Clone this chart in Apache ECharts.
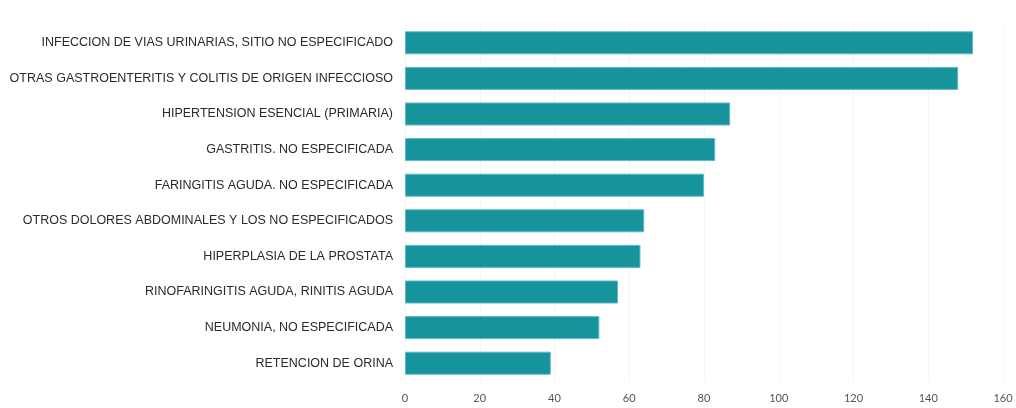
<!DOCTYPE html>
<html>
<head>
<meta charset="utf-8">
<script src="https://cdn.jsdelivr.net/npm/echarts@6/dist/echarts.min.js"></script>
<style>
  html, body { margin: 0; padding: 0; background: #fff; }
  #chart { width: 1016px; height: 408px; }
</style>
</head>
<body>
<div id="chart"></div>
<script>
// diagnosticos, de arriba hacia abajo
var diagnosticos = [
    'INFECCION DE VIAS URINARIAS, SITIO NO ESPECIFICADO',
    'OTRAS GASTROENTERITIS Y COLITIS DE ORIGEN INFECCIOSO',
    'HIPERTENSION ESENCIAL (PRIMARIA)',
    'GASTRITIS. NO ESPECIFICADA',
    'FARINGITIS AGUDA. NO ESPECIFICADA',
    'OTROS DOLORES ABDOMINALES Y LOS NO ESPECIFICADOS',
    'HIPERPLASIA DE LA PROSTATA',
    'RINOFARINGITIS AGUDA, RINITIS AGUDA',
    'NEUMONIA, NO ESPECIFICADA',
    'RETENCION DE ORINA'
];
var casos = [152, 148, 87, 83, 80, 64, 63, 57, 52, 39];
var ejeMin = 0, ejeMax = 160, ejePaso = 20;

var myChart = echarts.init(document.getElementById('chart'));
var option = {
    animation: false,
    grid: { left: 405, right: 13, top: 25, bottom: 27, containLabel: false },
    xAxis: {
        type: 'value',
        min: ejeMin,
        max: ejeMax,
        interval: ejePaso,
        axisLine: { show: false },
        axisTick: { show: false },
        axisLabel: { color: '#555', fontFamily: 'Lato', fontSize: 11, margin: 12 },
        splitLine: { show: true, lineStyle: { color: '#f5f5f5', width: 1 } }
    },
    yAxis: {
        type: 'category',
        inverse: true,
        data: diagnosticos,
        axisLine: { show: false },
        axisTick: { show: false },
        axisLabel: { color: '#2a2a2a', fontFamily: 'Liberation Sans', fontSize: 12.5, margin: 12 }
    },
    series: [{
        type: 'bar',
        data: casos,
        barWidth: 23,
        itemStyle: { color: '#17939c', borderColor: '#5cb9c8', borderWidth: 1 }
    }]
};
myChart.setOption(option);
</script>
</body>
</html>
